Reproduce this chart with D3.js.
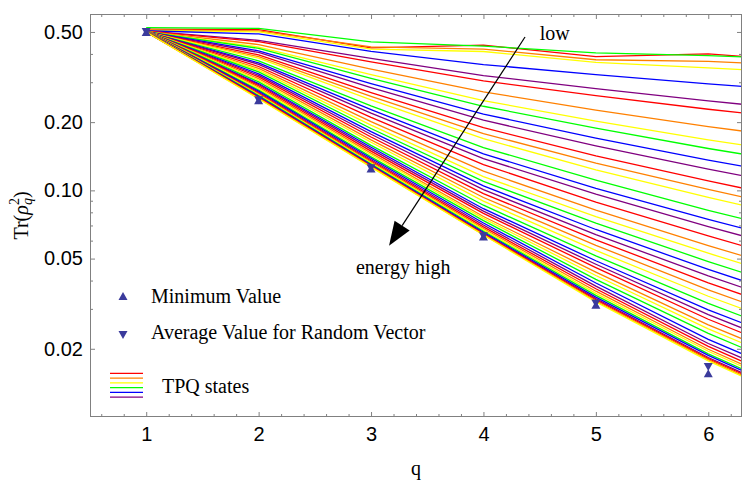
<!DOCTYPE html>
<html>
<head>
<meta charset="utf-8">
<script src="https://cdn.jsdelivr.net/npm/d3@7"></script>
<style>
  body { margin: 0; background: #fff; }
  svg { display: block; font-family: 'Liberation Serif', 'Times New Roman', serif; }
</style>
</head>
<body>
<script>
/* data: subsystem size q and the purity of each TPQ state (one array per q) */
const qValues = [1, 2, 3, 4, 5, 6, 7];

const tpqQ1 = [0.515, 0.510, 0.508, 0.522, 0.506, 0.505, 0.504, 0.503, 0.502, 0.502, 0.501,
  0.500, 0.500, 0.500, 0.500, 0.500, 0.500, 0.500, 0.500, 0.500, 0.500,
  0.500, 0.500, 0.500, 0.500, 0.500, 0.500, 0.500, 0.500, 0.500, 0.500,
  0.500, 0.500, 0.500, 0.500, 0.500, 0.500, 0.500, 0.500, 0.500, 0.500,
  0.500, 0.500, 0.500, 0.500];
const tpqQ2 = [0.512, 0.505, 0.500, 0.518, 0.490, 0.459, 0.453, 0.440, 0.429, 0.423, 0.413,
  0.406, 0.396, 0.389, 0.383, 0.373, 0.365, 0.360, 0.352, 0.345, 0.339,
  0.333, 0.3266, 0.3215, 0.3165, 0.311, 0.306, 0.301, 0.296, 0.293, 0.2895,
  0.2855, 0.281, 0.277, 0.274, 0.271, 0.268, 0.266, 0.264, 0.262, 0.260,
  0.258, 0.2565, 0.255, 0.2535];
const tpqQ3 = [0.425, 0.430, 0.420, 0.452, 0.410, 0.382, 0.369, 0.343, 0.324, 0.312, 0.296,
  0.284, 0.270, 0.260, 0.2505, 0.236, 0.227, 0.219, 0.210, 0.201, 0.194,
  0.1875, 0.1815, 0.1768, 0.172, 0.167, 0.163, 0.158, 0.155, 0.152, 0.149,
  0.146, 0.1435, 0.1405, 0.1385, 0.1365, 0.1348, 0.1333, 0.1320, 0.1308, 0.1297,
  0.1288, 0.1280, 0.1273, 0.1266];
const tpqQ4 = [0.437, 0.420, 0.410, 0.433, 0.359, 0.321, 0.304, 0.272, 0.249, 0.235, 0.217,
  0.204, 0.189, 0.178, 0.169, 0.1545, 0.145, 0.138, 0.130, 0.1215, 0.115,
  0.1096, 0.1046, 0.1007, 0.0968, 0.093, 0.0896, 0.086, 0.083, 0.081, 0.0791,
  0.0767, 0.0752, 0.0735, 0.0718, 0.0703, 0.0690, 0.0679, 0.0669, 0.0660, 0.0653,
  0.0647, 0.0642, 0.0638, 0.0635];
const tpqQ5 = [0.389, 0.377, 0.367, 0.404, 0.324, 0.281, 0.262, 0.226, 0.202, 0.188, 0.170,
  0.157, 0.142, 0.132, 0.123, 0.111, 0.102, 0.0962, 0.0887, 0.0818, 0.0766,
  0.0717, 0.0672, 0.0638, 0.0605, 0.0572, 0.0543, 0.0514, 0.0489, 0.0472, 0.0456,
  0.0436, 0.0421, 0.0405, 0.0390, 0.0378, 0.0368, 0.0359, 0.0351, 0.0344, 0.0338,
  0.0333, 0.0329, 0.0325, 0.0322];
const tpqQ6 = [0.400, 0.371, 0.347, 0.393, 0.295, 0.248, 0.228, 0.191, 0.167, 0.153, 0.136,
  0.124, 0.110, 0.101, 0.0931, 0.0817, 0.0745, 0.0692, 0.0629, 0.0571, 0.0528,
  0.0485, 0.0448, 0.0419, 0.0391, 0.0364, 0.0341, 0.0317, 0.0297, 0.0283, 0.0270,
  0.0255, 0.0245, 0.0234, 0.0220, 0.0211, 0.0205, 0.0199, 0.0195, 0.0190, 0.0187,
  0.0183, 0.0181, 0.0179, 0.0177];
const tpqQ7 = [0.368, 0.351, 0.328, 0.376, 0.272, 0.222, 0.202, 0.165, 0.141, 0.127, 0.111,
  0.0995, 0.0868, 0.0785, 0.0716, 0.0616, 0.0552, 0.0508, 0.0454, 0.0406, 0.0371,
  0.0337, 0.0307, 0.0285, 0.0263, 0.0242, 0.0224, 0.0206, 0.0191, 0.0180, 0.0170,
  0.0159, 0.0152, 0.0144, 0.0135, 0.0129, 0.0124, 0.0120, 0.0117, 0.0114, 0.0112,
  0.0109, 0.0108, 0.0106, 0.0105];

const markerQ = [1, 2, 3, 4, 5, 6];
const minimumValue = [0.5, 0.25, 0.125, 0.0625, 0.03125, 0.0156];
const randomAverage = [0.5, 0.2501, 0.1251, 0.0627, 0.0317, 0.0166];

const lineColors = ['#ff0000', '#ff8000', '#ffff00', '#00ff00', '#0000ff', '#800080'];
const markerColor = '#3b3b9c';

const xMajor = [1, 2, 3, 4, 5, 6];
const xMinor = [0.6, 0.8, 1.2, 1.4, 1.6, 1.8, 2.2, 2.4, 2.6, 2.8, 3.2, 3.4, 3.6, 3.8,
  4.2, 4.4, 4.6, 4.8, 5.2, 5.4, 5.6, 5.8, 6.2];
const yMajor = [0.5, 0.2, 0.1, 0.05, 0.02];
const yMajorLabels = ['0.50', '0.20', '0.10', '0.05', '0.02'];
const yMinor = [0.4, 0.3, 0.09, 0.08, 0.07, 0.06, 0.04, 0.03];

/* layout */
const width = 747, height = 486;
const margin = {top: 14, right: 5, bottom: 69, left: 90};
const x0 = margin.left, x1 = width - margin.right;
const y0 = margin.top, y1 = height - margin.bottom;

const svg = d3.select('body').append('svg')
  .attr('width', width)
  .attr('height', height);

const x = d3.scaleLinear().domain([0.5, 6.3]).range([x0, x1]);
const y = d3.scaleLog().domain([0.01, 0.6]).range([y1, y0]);

svg.append('clipPath').attr('id', 'plot-clip')
  .append('rect')
  .attr('x', x0).attr('y', y0)
  .attr('width', x1 - x0).attr('height', y1 - y0);

/* TPQ lines */
const columns = [tpqQ1, tpqQ2, tpqQ3, tpqQ4, tpqQ5, tpqQ6, tpqQ7];
const states = d3.range(tpqQ1.length).map(i => qValues.map((q, k) => [q, columns[k][i]]));

const line = d3.line()
  .x(d => x(d[0]))
  .y(d => y(d[1]));

svg.append('g')
  .attr('clip-path', 'url(#plot-clip)')
  .selectAll('path')
  .data(states)
  .enter().append('path')
  .attr('d', line)
  .attr('fill', 'none')
  .attr('stroke', (d, i) => lineColors[i % lineColors.length])
  .attr('stroke-width', 1.3);

/* frame and ticks (ticks point inward on all four sides) */
function styleAxis(g) {
  g.select('.domain').remove();
  g.selectAll('.tick line').attr('stroke', '#808080');
  g.selectAll('.tick text').style('font-size', '20px').attr('fill', '#000');
}

svg.append('g').attr('transform', `translate(0,${y1})`)
  .call(d3.axisBottom(x).tickValues(xMajor).tickSize(-5).tickPadding(10).tickFormat(d3.format('d')))
  .call(styleAxis);
svg.append('g').attr('transform', `translate(0,${y1})`)
  .call(d3.axisBottom(x).tickValues(xMinor).tickSize(-3).tickFormat(''))
  .call(styleAxis);
svg.append('g').attr('transform', `translate(0,${y0})`)
  .call(d3.axisTop(x).tickValues(xMajor).tickSize(-5).tickFormat(''))
  .call(styleAxis);
svg.append('g').attr('transform', `translate(0,${y0})`)
  .call(d3.axisTop(x).tickValues(xMinor).tickSize(-3).tickFormat(''))
  .call(styleAxis);

svg.append('g').attr('transform', `translate(${x0},0)`)
  .call(d3.axisLeft(y).tickValues(yMajor).tickSize(-5).tickPadding(7)
    .tickFormat((d, i) => yMajorLabels[i]))
  .call(styleAxis);
svg.append('g').attr('transform', `translate(${x0},0)`)
  .call(d3.axisLeft(y).tickValues(yMinor).tickSize(-3).tickFormat(''))
  .call(styleAxis);
svg.append('g').attr('transform', `translate(${x1},0)`)
  .call(d3.axisRight(y).tickValues(yMajor).tickSize(-5).tickFormat(''))
  .call(styleAxis);
svg.append('g').attr('transform', `translate(${x1},0)`)
  .call(d3.axisRight(y).tickValues(yMinor).tickSize(-3).tickFormat(''))
  .call(styleAxis);

svg.append('rect')
  .attr('x', x0 + 0.5).attr('y', y0 + 0.5)
  .attr('width', x1 - x0 - 1).attr('height', y1 - y0 - 1)
  .attr('fill', 'none')
  .attr('stroke', '#808080');

/* markers */
const tw = 9, th = 8;
const triUp = `M0,${-th / 2}L${tw / 2},${th / 2}L${-tw / 2},${th / 2}Z`;
const triDown = `M0,${th / 2}L${tw / 2},${-th / 2}L${-tw / 2},${-th / 2}Z`;

svg.append('g').selectAll('path')
  .data(markerQ.map((q, i) => [q, minimumValue[i]]))
  .enter().append('path')
  .attr('d', triUp)
  .attr('transform', d => `translate(${x(d[0])},${y(d[1])})`)
  .attr('fill', markerColor);

svg.append('g').selectAll('path')
  .data(markerQ.map((q, i) => [q, randomAverage[i]]))
  .enter().append('path')
  .attr('d', triDown)
  .attr('transform', d => `translate(${x(d[0])},${y(d[1])})`)
  .attr('fill', markerColor);

/* energy arrow */
const arrowFrom = [4.37, 0.475], arrowTo = [3.16, 0.057];
const ax0 = x(arrowFrom[0]), ay0 = y(arrowFrom[1]);
const ax1 = x(arrowTo[0]), ay1 = y(arrowTo[1]);
const len = Math.hypot(ax1 - ax0, ay1 - ay0);
const ux = (ax1 - ax0) / len, uy = (ay1 - ay0) / len;
const headLen = 24, headHalf = 9;
const bx = ax1 - ux * headLen, by = ay1 - uy * headLen;

svg.append('line')
  .attr('x1', ax0).attr('y1', ay0)
  .attr('x2', bx).attr('y2', by)
  .attr('stroke', '#000').attr('stroke-width', 1.2);
svg.append('path')
  .attr('d', `M${ax1},${ay1}L${bx - uy * headHalf},${by + ux * headHalf}L${bx + uy * headHalf},${by - ux * headHalf}Z`)
  .attr('fill', '#000');

svg.append('text')
  .attr('x', x(4.5)).attr('y', y(0.461))
  .style('font-size', '20px')
  .text('low');
svg.append('text')
  .attr('x', x(2.866)).attr('y', y(0.0427))
  .style('font-size', '20px')
  .text('energy high');

/* axis titles */
svg.append('text')
  .attr('x', (x0 + x1) / 2).attr('y', 475)
  .attr('text-anchor', 'middle')
  .style('font-size', '20px')
  .text('q');

const yTitle = svg.append('text')
  .attr('transform', `translate(28,${(y0 + y1) / 2}) rotate(-90)`)
  .attr('text-anchor', 'middle')
  .style('font-size', '20px');
yTitle.append('tspan').text('Tr(');
yTitle.append('tspan').style('font-style', 'italic').text('ρ');
yTitle.append('tspan').attr('dy', -9).style('font-size', '14px').text('2');
yTitle.append('tspan').attr('dx', -7).attr('dy', 13).style('font-size', '14px').style('font-style', 'italic').text('q');
yTitle.append('tspan').attr('dy', -4).text(')');

/* legend */
const legend = svg.append('g');
legend.append('path').attr('d', triUp).attr('transform', 'translate(123,296)').attr('fill', markerColor);
legend.append('text').attr('x', 151).attr('y', 303).style('font-size', '20px').text('Minimum Value');
legend.append('path').attr('d', triDown).attr('transform', 'translate(123,335)').attr('fill', markerColor);
legend.append('text').attr('x', 151).attr('y', 339).style('font-size', '20px').text('Average Value for Random Vector');

legend.selectAll('line')
  .data(lineColors)
  .enter().append('line')
  .attr('x1', 110).attr('x2', 143)
  .attr('y1', (d, i) => 373.3 + i * 4.75)
  .attr('y2', (d, i) => 373.3 + i * 4.75)
  .attr('stroke', d => d)
  .attr('stroke-width', 1.3);
legend.append('text').attr('x', 162).attr('y', 393).style('font-size', '20px').text('TPQ states');
</script>
</body>
</html>
